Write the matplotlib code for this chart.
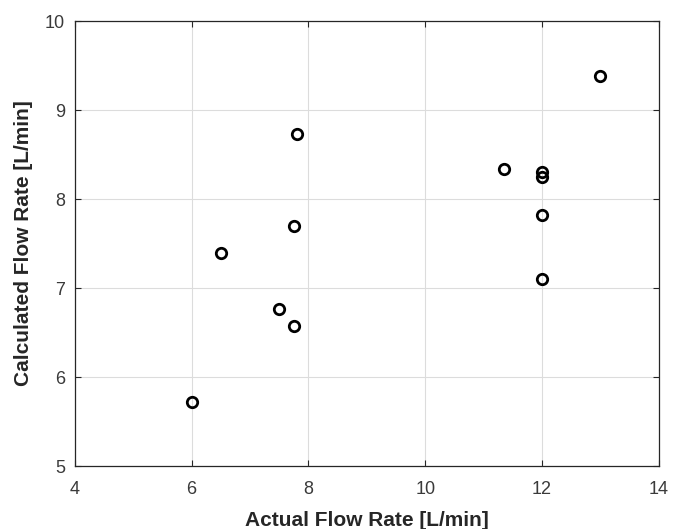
import matplotlib
matplotlib.use('Agg')
import matplotlib.pyplot as plt

actual = [6.0, 6.5, 7.5, 7.75, 7.75, 7.8, 11.35, 12.0, 12.0, 12.0, 12.0, 13.0]
calculated = [5.72, 7.40, 6.77, 6.57, 7.70, 8.73, 8.34, 8.31, 8.25, 7.82, 7.10, 9.38]

xticks = [4, 6, 8, 10, 12, 14]
yticks = [5, 6, 7, 8, 9, 10]

plt.rcParams['font.family'] = ['Liberation Sans', 'DejaVu Sans']

fig = plt.figure(figsize=(6.73, 5.29), dpi=100)
ax = fig.add_axes([0.111, 0.119, 0.868, 0.841])

ax.plot(actual, calculated, 'o', mfc='none', mec='black', ms=7.5, mew=2)

ax.set_xlim(4, 14)
ax.set_ylim(5, 10)
ax.set_xticks(xticks)
ax.set_yticks(yticks)
ax.grid(True, color='#dcdcdc', linewidth=0.8)
ax.set_axisbelow(True)

ax.tick_params(direction='in', length=4, width=0.8, colors='#262626',
               labelsize=13, labelcolor='#3a3a3a', top=True, right=True)
ax.tick_params(axis='x', pad=11)
ax.tick_params(axis='y', pad=7)
for s in ax.spines.values():
    s.set_color('#262626')
    s.set_linewidth(0.9)

ax.set_xlabel('Actual Flow Rate [L/min]', fontsize=15, fontweight='bold', color='#262626')
ax.set_ylabel('Calculated Flow Rate [L/min]', fontsize=15, fontweight='bold', color='#262626')
ax.xaxis.set_label_coords(0.5, -0.10)
ax.yaxis.set_label_coords(-0.072, 0.5)

fig.savefig('out.png', dpi=100)
